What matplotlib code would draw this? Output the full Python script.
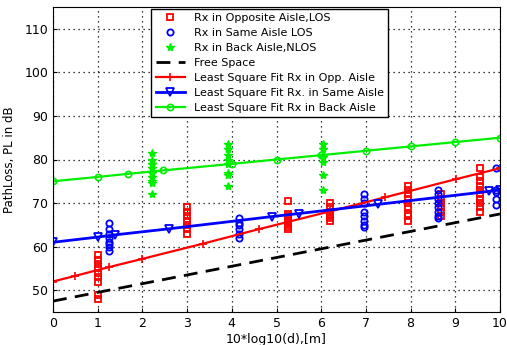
import numpy as np
import matplotlib.pyplot as plt

# measured path loss (x = 10*log10(d))
opp_x = [1.0]*9 + [3.0]*7 + [5.25]*8 + [6.2]*7 + [7.95]*9 + [8.67]*6 + [9.55]*10
opp_pl = [58, 57, 56, 55, 54, 53, 52, 49, 48,
          69, 68, 67, 66, 65, 64, 63,
          70.5, 67.5, 67, 66, 65.5, 65, 64.5, 64,
          70, 69, 68, 67.5, 67, 66.5, 66,
          74, 73, 72, 71, 70, 69, 67.5, 67, 66,
          72, 71, 70, 69, 68, 67,
          78, 76, 75, 74, 73, 72, 71, 70, 69, 68]

same_x = [1.25]*8 + [4.15]*6 + [6.95]*8 + [8.62]*8 + [9.9]*5
same_pl = [65.5, 64, 63, 62, 61, 60.5, 60, 59,
           66.5, 65.5, 65, 64, 63, 62,
           72, 71, 70, 68, 67, 66, 65, 64.5,
           73, 72, 71, 70, 69, 68, 67, 66.5,
           78, 73, 72.5, 71, 69.5]

back_x = [2.22]*9 + [3.92]*8 + [6.05]*7
back_pl = [81.5, 80, 79, 78, 77, 76, 75, 74.5, 72,
           83.5, 82.5, 81, 80, 79, 77, 76.5, 74,
           83.5, 82.5, 81, 80.5, 79.5, 76.5, 73]

# free space and least square fits
fs_x = [0, 10]
fs_pl = [47.5, 67.5]

opp_fit_x = [0, 0.5, 1.25, 2, 3.36, 4.6, 6.2, 7.42, 9.02, 10]
opp_fit = [52.0, 53.3, 55.3, 57.2, 60.7, 64.0, 68.1, 71.3, 75.5, 78.0]

same_fit_x = [0, 1, 1.38, 2.6, 4.9, 5.5, 7.27, 9.76, 10]
same_fit = [61.0, 62.2, 62.7, 64.1, 66.9, 67.6, 69.7, 72.7, 73.0]

back_fit_x = [0, 1, 1.67, 2.47, 4, 5, 6, 7, 8, 9, 10]
back_fit = [75.0, 76.0, 76.7, 77.5, 79.0, 80.0, 81.0, 82.0, 83.0, 84.0, 85.0]

fig = plt.figure(figsize=(5.07, 3.45), dpi=100)
ax = fig.add_axes([53/507, 33/345, 447/507, 305/345])

ax.plot(opp_x, opp_pl, 's', color='red', mfc='none', ms=5, mew=1.3,
        label='Rx in Opposite Aisle,LOS')
ax.plot(same_x, same_pl, 'o', color='blue', mfc='none', ms=4.5, mew=1.3,
        label='Rx in Same Aisle LOS')
ax.plot(back_x, back_pl, '*', color='#00ee00', ms=6,
        label='Rx in Back Aisle,NLOS')
ax.plot(fs_x, fs_pl, '--', color='black', lw=2, dashes=(5, 3), label='Free Space')
ax.plot(opp_fit_x, opp_fit, '-+', color='red', lw=1.6, ms=6, mew=1.2,
        label='Least Square Fit Rx in Opp. Aisle')
ax.plot(same_fit_x, same_fit, '-v', color='blue', lw=2, ms=5.5, mfc='none', mew=1.3,
        label='Least Square Fit Rx. in Same Aisle')
ax.plot(back_fit_x, back_fit, '-o', color='#00ee00', lw=1.6, ms=4.5, mfc='none', mew=1.2,
        label='Least Square Fit Rx in Back Aisle')

ax.set_xlim(0, 10)
ax.set_ylim(45, 115)
ax.set_xticks(range(0, 11))
ax.set_yticks([50, 60, 70, 80, 90, 100, 110])
ax.tick_params(labelsize=9, direction='in', length=3)
ax.grid(True, linestyle=(0, (1, 3)), color='black', lw=0.9)
ax.set_xlabel('10*log10(d),[m]', fontsize=9, labelpad=2)
ax.set_ylabel('PathLoss, PL in dB', fontsize=8.5, labelpad=6)

ax.legend(loc='upper left', bbox_to_anchor=(0.22, 0.995), fontsize=8,
          framealpha=1, fancybox=False, edgecolor='black',
          labelspacing=0.45, borderaxespad=0, handlelength=2.6)

fig.savefig('out.png', dpi=100)
